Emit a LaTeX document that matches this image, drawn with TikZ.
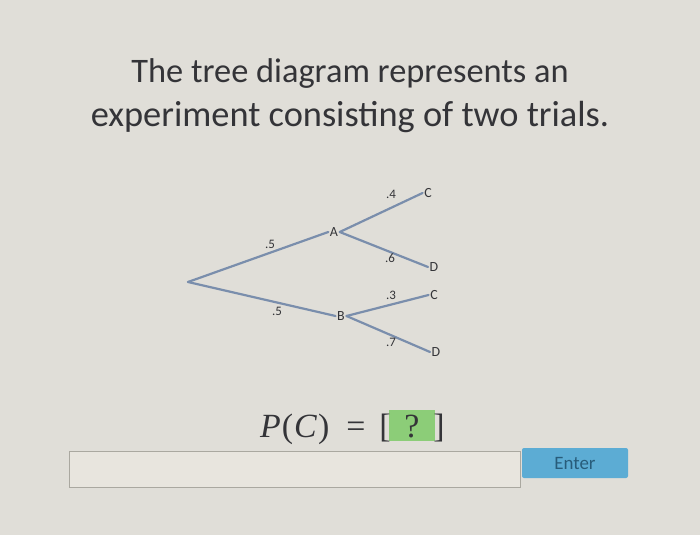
\documentclass[tikz,border=0pt]{standalone}
\usepackage{fontspec}
\setmainfont{Carlito}
\newfontfamily\mathlike{Liberation Serif}
\definecolor{bg}{RGB}{224,222,216}
\definecolor{ink}{RGB}{52,52,56}
\definecolor{branch}{RGB}{122,142,172}
\definecolor{boxfill}{RGB}{232,229,222}
\definecolor{boxline}{RGB}{170,168,160}
\definecolor{btn}{RGB}{92,172,212}
\definecolor{btntext}{RGB}{40,92,122}
\definecolor{qgreen}{RGB}{140,205,120}
\tikzset{
  lbl/.style={text=ink, font=\fontsize{13}{13}\selectfont, inner sep=0pt},
  leaf/.style={text=ink, font=\fontsize{14}{14}\selectfont, inner sep=1.5pt},
  br/.style={draw=branch, line width=2.2bp, line cap=round},
  eqtext/.style={text=ink, font=\mathlike\fontsize{34}{34}\selectfont, anchor=base, inner sep=0pt},
}
\begin{document}
\begin{tikzpicture}[x=1bp,y=-1bp]
\useasboundingbox (0,0) rectangle (700,535);
\fill[bg] (0,0) rectangle (700,535);
% title
\node[text=ink, font=\fontsize{34.5}{44}\selectfont, anchor=base] (title1) at (350,83)
  {The tree diagram represents an};
\node[text=ink, font=\fontsize{36.5}{44}\selectfont, anchor=base] (title2) at (350,127)
  {experiment consisting of two trials.};
% tree
\coordinate (root) at (188,282);
\node[leaf] (A) at (334,232) {A};
\node[leaf] (B) at (341,316) {B};
\node[leaf] (C1) at (428,193) {C};
\node[leaf] (D1) at (434,267) {D};
\node[leaf] (C2) at (434,295) {C};
\node[leaf] (D2) at (436,352) {D};
\draw[br] (root) -- (A.west);
\draw[br] (root) -- (B.west);
\draw[br] (A.east) -- (C1.west);
\draw[br] (A.east) -- (D1.west);
\draw[br] (B.east) -- (C2.west);
\draw[br] (B.east) -- (D2.west);
\node[lbl] (p1) at (270,244) {.5};
\node[lbl] (p2) at (277,311) {.5};
\node[lbl] (p3) at (391,194) {.4};
\node[lbl] (p4) at (390,258) {.6};
\node[lbl] (p5) at (391,295) {.3};
\node[lbl] (p6) at (391,342) {.7};
% question
\fill[qgreen] (389,410) rectangle (435,441);
\node[eqtext, anchor=base west] (pc) at (260,437) {\textit{P}\kern1bp(\kern1bp\textit{C}\kern1bp)};
\node[eqtext] (eq) at (356,437) {=};
\node[eqtext] (lb) at (385,437) {[};
\node[eqtext] (qm) at (412,437) {?};
\node[eqtext] (rb) at (439,437) {]};
% input
\node[draw=boxline, fill=boxfill, line width=1bp, minimum width=451bp, minimum height=36bp, inner sep=0pt] (input) at (295,469) {};
\node[fill=btn, rounded corners=2bp, minimum width=106bp, minimum height=30bp, inner sep=0pt, text=btntext, font=\fontsize{19}{19}\selectfont] (enter) at (575,463) {Enter};
\end{tikzpicture}
\end{document}
